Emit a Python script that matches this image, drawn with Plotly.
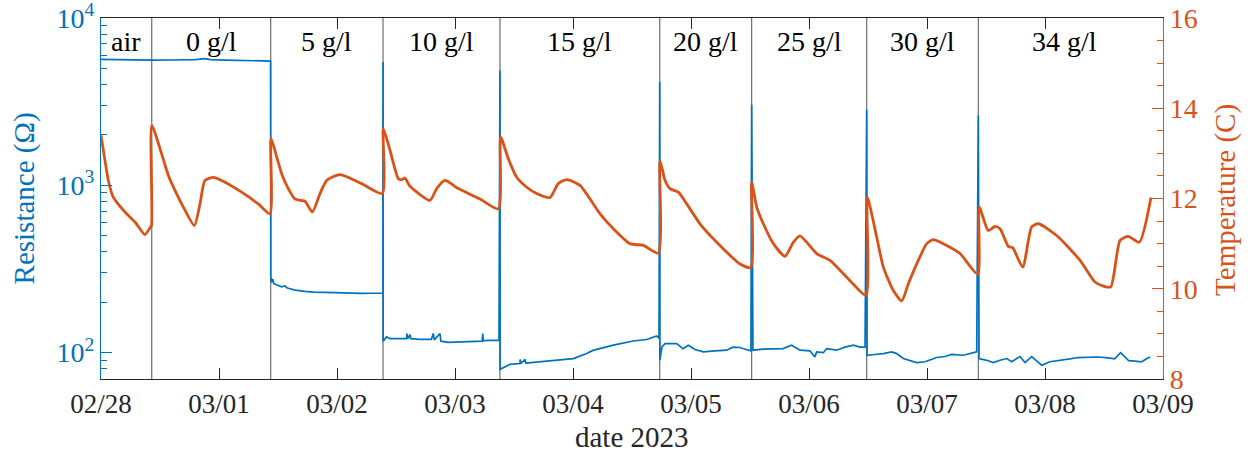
import plotly.graph_objects as go
import pandas as pd

BASE = pd.Timestamp("2023-02-28")

# segment labels and boundaries (days since 02/28 00:00)
seg_labels = ["air", "0 g/l", "5 g/l", "10 g/l", "15 g/l", "20 g/l", "25 g/l", "30 g/l", "34 g/l"]
seg_bounds = [0.0, 0.430, 1.438, 2.390, 3.381, 4.735, 5.514, 6.489, 7.435, 8.901]

# temperature (C) vs days
temp_days = [0.000, 0.034, 0.062, 0.104, 0.203, 0.288, 0.373, 0.415, 0.428,
             0.430, 0.514, 0.571, 0.627, 0.698, 0.791, 0.839, 0.881, 0.952, 1.023, 1.192, 1.333, 1.432,
             1.441, 1.489, 1.531, 1.587, 1.644, 1.686, 1.729, 1.791, 1.856, 1.913, 2.025, 2.209, 2.384,
             2.392, 2.449, 2.520, 2.548, 2.576, 2.619, 2.788, 2.845, 2.915, 3.028, 3.212, 3.367,
             3.387, 3.452, 3.523, 3.608, 3.692, 3.805, 3.875, 3.947, 4.059, 4.229, 4.342, 4.483, 4.596, 4.723,
             4.737, 4.780, 4.822, 4.893, 4.964, 5.076, 5.218, 5.331, 5.415, 5.506,
             5.514, 5.557, 5.613, 5.698, 5.797, 5.867, 5.924, 6.065, 6.178, 6.347, 6.483,
             6.494, 6.574, 6.630, 6.715, 6.786, 6.842, 6.913, 6.998, 7.054, 7.195, 7.280, 7.430,
             7.443, 7.519, 7.576, 7.619, 7.689, 7.726, 7.811, 7.887, 7.943, 8.099, 8.297, 8.424,
             8.494, 8.557, 8.636, 8.706, 8.799, 8.898]
temp_vals = [13.40, 12.84, 12.40, 12.03, 11.70, 11.48, 11.20, 11.35, 11.40,
             13.62, 12.99, 12.51, 12.18, 11.81, 11.40, 11.88, 12.40, 12.47, 12.40, 12.14, 11.88, 11.66,
             13.33, 12.92, 12.55, 12.22, 11.99, 11.96, 11.94, 11.70, 12.11, 12.40, 12.53, 12.33, 12.11,
             13.55, 13.07, 12.44, 12.42, 12.45, 12.27, 11.96, 12.22, 12.40, 12.22, 11.99, 11.77,
             13.36, 12.88, 12.47, 12.25, 12.11, 12.02, 12.33, 12.42, 12.29, 11.66, 11.33, 11.00, 10.96, 10.79,
             12.84, 12.40, 12.22, 12.14, 11.88, 11.44, 11.03, 10.74, 10.55, 10.47,
             12.36, 11.81, 11.44, 11.00, 10.72, 11.03, 11.17, 10.78, 10.63, 10.18, 9.85,
             12.03, 11.14, 10.48, 9.96, 9.73, 10.11, 10.55, 11.00, 11.09, 10.92, 10.78, 10.32,
             11.81, 11.29, 11.38, 11.33, 10.94, 10.91, 10.48, 11.37, 11.44, 11.18, 10.63, 10.15,
             10.06, 10.04, 11.07, 11.16, 11.03, 12.02]

# resistance (Ohm) vs days
res_days = [0.000, 0.100, 0.200, 0.430, 0.600, 0.800, 0.880, 0.930, 1.050, 1.200, 1.437,
            1.439, 1.445, 1.455, 1.465, 1.531, 1.560, 1.580, 1.644, 1.729, 1.800, 1.980, 2.200, 2.389,
            2.390, 2.391, 2.420, 2.450, 2.534, 2.590, 2.593, 2.600, 2.619, 2.625, 2.700, 2.800, 2.816,
            2.825, 2.873, 2.880, 2.941, 3.093, 3.231, 3.235, 3.240, 3.373,
            3.381, 3.382, 3.424, 3.466, 3.551, 3.552, 3.560, 3.593, 3.600, 3.636, 3.805, 3.947, 4.003,
            4.116, 4.169, 4.342, 4.511, 4.625, 4.709, 4.729,
            4.735, 4.736, 4.754, 4.780, 4.879, 4.932, 4.977, 5.034, 5.104, 5.203, 5.302, 5.356, 5.415,
            5.466, 5.508,
            5.514, 5.525, 5.610, 5.698, 5.780, 5.853, 5.924, 6.008, 6.050, 6.065, 6.121, 6.150, 6.234,
            6.305, 6.376, 6.432, 6.475,
            6.489, 6.492, 6.559, 6.630, 6.701, 6.743, 6.799, 6.856, 6.913, 6.983, 7.082, 7.153, 7.210,
            7.308, 7.364, 7.421,
            7.435, 7.441, 7.506, 7.562, 7.619, 7.676, 7.718, 7.788, 7.831, 7.887, 7.924, 7.972, 8.042,
            8.127, 8.212, 8.280, 8.364, 8.449, 8.534, 8.590, 8.641, 8.709, 8.763, 8.818, 8.864, 8.890]
res_vals = [5660, 5640, 5630, 5600, 5610, 5640, 5720, 5640, 5600, 5560, 5530,
            283, 262, 275, 258, 247, 250, 243, 236, 232, 230, 228, 226, 227,
            5460, 117, 124, 121, 121, 121, 130, 121, 128, 121, 120, 120, 130,
            119, 130, 117, 115, 116.5, 117, 130, 118, 118.6,
            4860, 79.4, 82.0, 85.1, 86, 91, 86, 91, 86.5, 87, 89.9, 91.2, 92.1,
            98.6, 103, 110.7, 117.3, 119.7, 125.6, 122,
            4140, 90, 108, 113, 113, 105.6, 110.7, 104.4, 100.9, 102.3, 103.3, 107.7, 107.2,
            104.4, 102.3,
            3030, 103.3, 104.8, 105.6, 105.6, 110.7, 103.3, 102.3, 94, 100.9, 99.8, 105.6, 103.3,
            107.7, 110.7, 107.7, 107.7,
            2830, 96.4, 97.4, 98.6, 100.9, 98.6, 92.1, 89.9, 87.1, 88.1, 93.4, 94.7, 97.4,
            96.4, 98.6, 100.9,
            2620, 92.1, 89.9, 87.1, 89.9, 92.1, 88.1, 94.7, 87.1, 94.7, 89.9, 84, 88.1,
            89.4, 91.6, 93.4, 94.1, 94.1, 93, 91.6, 99.8, 89.4, 89, 88.1, 92.1, 94.1]

x_tick_days = [0, 1, 2, 3, 4, 5, 6, 7, 8, 9]
y_left_ticks = [100, 1000, 10000]
y_left_text = ["10<sup>2</sup>", "10<sup>3</sup>", "10<sup>4</sup>"]
y_right_ticks = [8, 10, 12, 14, 16]


def to_time(days):
    return BASE + pd.to_timedelta(pd.Series(days), unit="D")


BLUE = "#0072BD"
ORANGE = "#D95319"
AX = "#262626"
FONT = "Liberation Serif"

fig = go.Figure()
fig.add_trace(go.Scatter(x=to_time(res_days), y=res_vals, mode="lines",
                         line=dict(color=BLUE, width=1.7), yaxis="y", showlegend=False))
fig.add_trace(go.Scatter(x=to_time(temp_days), y=temp_vals, mode="lines",
                         line=dict(color=ORANGE, width=2.8, shape="spline", smoothing=0.6),
                         yaxis="y2", showlegend=False))

bound_times = to_time(seg_bounds)
for bt in bound_times[1:-1]:
    fig.add_shape(type="line", xref="x", yref="paper", x0=bt, x1=bt, y0=0, y1=1,
                  line=dict(color="#6e6e6e", width=1.2), layer="below")

mids = to_time([(a + b) / 2 for a, b in zip(seg_bounds[:-1], seg_bounds[1:])])
for lab, m in zip(seg_labels, mids):
    fig.add_annotation(x=m, xref="x", y=0.935, yref="paper", text=lab, showarrow=False,
                       font=dict(family=FONT, size=28, color="black"), yanchor="middle")

minor_left = [v * 10 ** e for e in (1, 2, 3) for v in range(2, 10) if 69 < v * 10 ** e < 10000]

fig.update_layout(
    width=1255, height=457,
    margin=dict(l=101, r=92, t=18, b=78, autoexpand=False),
    plot_bgcolor="white", paper_bgcolor="white",
    font=dict(family=FONT, size=28, color=AX),
    xaxis=dict(type="date", range=[BASE, BASE + pd.Timedelta(days=9)],
               tickvals=list(to_time(x_tick_days)), tickformat="%m/%d",
               ticks="inside", ticklen=11, tickcolor=AX, tickwidth=1,
               showline=True, linecolor=AX, linewidth=1.3, mirror="ticks",
               showgrid=False, zeroline=False, automargin=False, ticklabeloverflow="allow",
               tickfont=dict(family=FONT, size=27, color=AX)),
    yaxis=dict(type="log", range=[1.842, 4.0], tickvals=y_left_ticks, ticktext=y_left_text,
               ticks="inside", ticklen=11, tickcolor=BLUE, showline=True, linecolor=BLUE,
               linewidth=1.3, showgrid=False, zeroline=False, automargin=False,
               ticklabeloverflow="allow",
               tickfont=dict(family=FONT, size=28, color=BLUE),
               minor=dict(tickvals=minor_left, ticks="inside", ticklen=6, tickcolor=BLUE, showgrid=False)),
    yaxis2=dict(overlaying="y", side="right", range=[8, 16], tickvals=y_right_ticks,
                ticks="inside", ticklen=11, tickcolor=ORANGE, showline=True, linecolor=ORANGE,
                linewidth=1.3, showgrid=False, zeroline=False, automargin=False,
                ticklabeloverflow="allow",
                tickfont=dict(family=FONT, size=28, color=ORANGE),
                minor=dict(dtick=0.5, ticks="inside", ticklen=6, tickcolor=ORANGE, showgrid=False)),
)

fig.add_annotation(x=0.5, xref="paper", y=-0.161, yref="paper", text="date 2023", showarrow=False,
                   font=dict(family=FONT, size=29, color=AX), yanchor="middle")
fig.add_annotation(x=-0.0716, xref="paper", y=0.5, yref="paper", text="Resistance (Ω)", showarrow=False,
                   textangle=-90, font=dict(family=FONT, size=29, color=BLUE), xanchor="center")
fig.add_annotation(x=1.0593, xref="paper", y=0.496, yref="paper", text="Temperature (C)", showarrow=False,
                   textangle=-90, font=dict(family=FONT, size=29, color=ORANGE), xanchor="center")

fig.write_html("out.html", config={"displayModeBar": False},
               post_script="document.body.style.margin='0';")
